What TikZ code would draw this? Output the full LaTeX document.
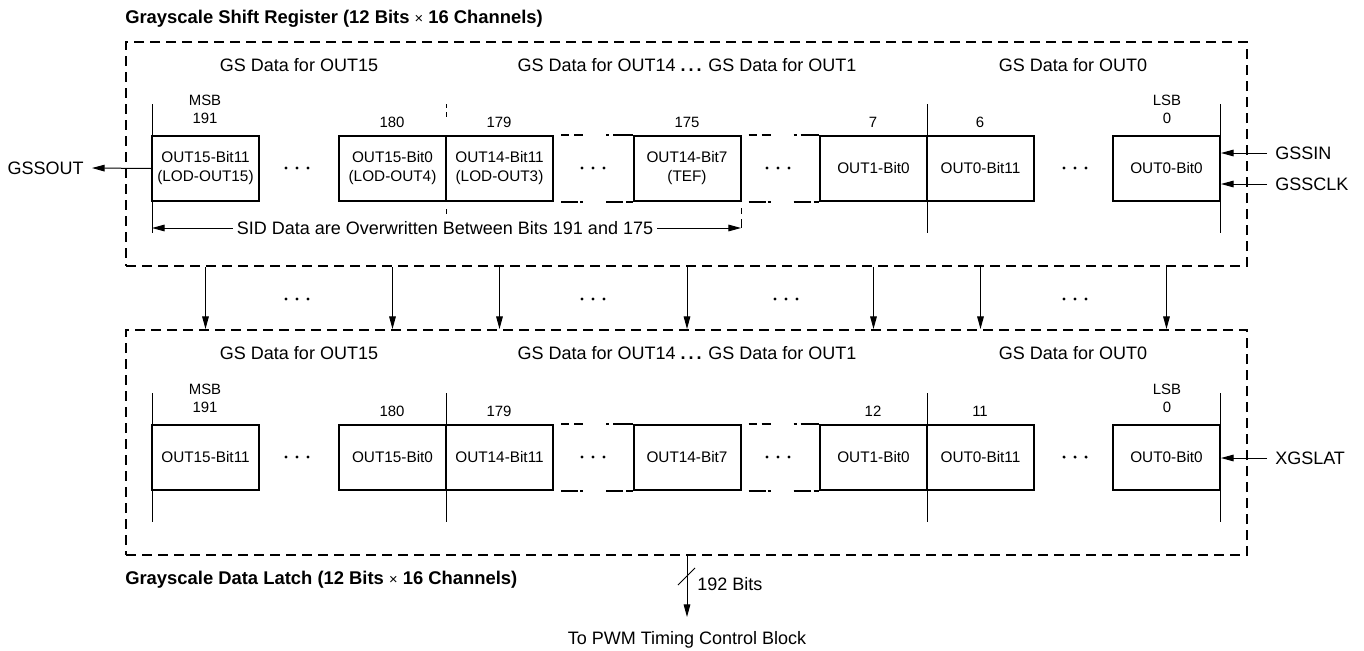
\documentclass[tikz,border=0pt]{standalone}
\usepackage{fontspec}
\setmainfont{Liberation Sans}
\usetikzlibrary{arrows.meta}
\newcommand\mydots[2]{\foreach \d in {-11,0,11}{\fill (#1+\d,#2) circle[radius=1.3pt];}}
\begin{document}
\begin{tikzpicture}[x=0.75pt,y=-0.75pt,
  cell/.style={draw,line width=1.5pt,minimum width=80.25pt,minimum height=48.75pt,inner sep=0pt,align=center,font=\fontsize{11.5}{14.25}\selectfont},
  outer/.style={draw,line width=1.5pt,dash pattern=on 7.5pt off 4.5pt,minimum width=840.75pt,inner sep=0pt},
  lbl/.style={font=\fontsize{13.5}{16}\selectfont,inner sep=0pt},
  bitlbl/.style={font=\fontsize{11.2}{13.5}\selectfont,inner sep=0pt,align=center},
  ttl/.style={font=\bfseries\fontsize{13.8}{16}\selectfont,inner sep=0pt,anchor=west},
  thin/.style={line width=0.75pt},
  arr/.style={thin,-{Triangle[length=9.5pt,width=5pt]}},
  topdash/.style={line width=1.5pt,dash pattern=on 6pt off 3.75pt on 6.75pt off 17.25pt on 2.25pt off 3pt on 20pt off 0pt},
  botdash/.style={line width=1.5pt,dash pattern=on 12.75pt off 1.5pt on 2.25pt off 17.25pt on 12.75pt off 2.25pt on 10pt off 0pt},
]
\useasboundingbox (0,0) rectangle (1364,650);

% ---------- outer boxes ----------
\node[outer,minimum height=168pt] (topbox) at (686.5,154) {};
\node[outer,minimum height=168.75pt] (botbox) at (686.5,442.5) {};
\node[ttl] (ttop) at (125,19) {Grayscale Shift Register (12 Bits {\mdseries\fontsize{11}{13}\selectfont×} 16 Channels)};
\node[ttl] (tbot) at (125,580) {Grayscale Data Latch (12 Bits {\mdseries\fontsize{11}{13}\selectfont×} 16 Channels)};

% ---------- top register ----------
\node[lbl] (g15) at (299,65) {GS Data for OUT15};
\node[lbl] (g14) at (687,65) {GS Data for OUT14 \textbf{.\,.\,.} GS Data for OUT1};
\node[lbl] (g0) at (1073,65) {GS Data for OUT0};

\node[cell] (t1) at (205.5,168.5) {OUT15-Bit11\\(LOD-OUT15)};
\node[cell] (t2) at (392.5,168.5) {OUT15-Bit0\\(LOD-OUT4)};
\node[cell] (t3) at (499.5,168.5) {OUT14-Bit11\\(LOD-OUT3)};
\node[cell] (t4) at (687,168.5) {OUT14-Bit7\\(TEF)};
\node[cell] (t5) at (873.5,168.5) {OUT1-Bit0};
\node[cell] (t6) at (980.5,168.5) {OUT0-Bit11};
\node[cell] (t7) at (1166.5,168.5) {OUT0-Bit0};

\node[bitlbl] (n191) at (205,109) {MSB\\191};
\node[bitlbl] (n180) at (392,122) {180};
\node[bitlbl] (n179) at (499,122) {179};
\node[bitlbl] (n175) at (687,122) {175};
\node[bitlbl] (n7) at (873,122) {7};
\node[bitlbl] (n6) at (980,122) {6};
\node[bitlbl] (n0) at (1167,109) {LSB\\0};

\draw[thin] (152,104) -- (152,233);
\draw[thin] (927,104) -- (927,233);
\draw[thin] (1220,104) -- (1220,233);
\draw[thin] (446,104) -- (446,108) (446,112) -- (446,117) (446,209) -- (446,214);
\draw[thin] (741,208) -- (741,214) (741,219) -- (741,228);

\draw[topdash] ([xshift=5.25pt]t3.north east) -- (t4.north west);
\draw[botdash] ([xshift=5.25pt]t3.south east) -- (t4.south west);
\draw[topdash] ([xshift=5.25pt]t4.north east) -- (t5.north west);
\draw[botdash] ([xshift=5.25pt]t4.south east) -- (t5.south west);

\mydots{297}{168}
\mydots{593}{168}
\mydots{778}{168}
\mydots{1075}{168}

\node[lbl] (sid) at (445,228) {SID Data are Overwritten Between Bits 191 and 175};
\coordinate (sidl) at (152,228);
\coordinate (sidr) at (741,228);
\draw[arr] ([xshift=-3pt]sid.west) -- (sidl);
\draw[arr] ([xshift=3pt]sid.east) -- (sidr);

\node[lbl,anchor=east] (gssout) at (84,168) {GSSOUT};
\draw[arr] (t1.west) -- ([xshift=6pt]gssout.east);
\node[lbl,anchor=west] (gssin) at (1275,153) {GSSIN};
\node[lbl,anchor=west] (gssclk) at (1275,184) {GSSCLK};
\draw[arr] ([xshift=-6pt]gssin.west) -- (t7.east |- gssin.west);
\draw[arr] ([xshift=-6pt]gssclk.west) -- (t7.east |- gssclk.west);

% ---------- transfer arrows ----------
\foreach \n in {t1,t2,t3,t4,t5,t6,t7}{
  \draw[arr] (\n |- topbox.south) -- (\n |- botbox.north);
}
\mydots{297}{299}
\mydots{593}{299}
\mydots{786}{299}
\mydots{1075}{299}

% ---------- bottom latch ----------
\node[lbl] (h15) at (299,353) {GS Data for OUT15};
\node[lbl] (h14) at (687,353) {GS Data for OUT14 \textbf{.\,.\,.} GS Data for OUT1};
\node[lbl] (h0) at (1073,353) {GS Data for OUT0};

\node[cell] (b1) at (205.5,457.5) {OUT15-Bit11};
\node[cell] (b2) at (392.5,457.5) {OUT15-Bit0};
\node[cell] (b3) at (499.5,457.5) {OUT14-Bit11};
\node[cell] (b4) at (687,457.5) {OUT14-Bit7};
\node[cell] (b5) at (873.5,457.5) {OUT1-Bit0};
\node[cell] (b6) at (980.5,457.5) {OUT0-Bit11};
\node[cell] (b7) at (1166.5,457.5) {OUT0-Bit0};

\node[bitlbl] (m191) at (205,398) {MSB\\191};
\node[bitlbl] (m180) at (392,411) {180};
\node[bitlbl] (m179) at (499,411) {179};
\node[bitlbl] (m12) at (873,411) {12};
\node[bitlbl] (m11) at (980,411) {11};
\node[bitlbl] (m0) at (1167,398) {LSB\\0};

\draw[thin] (152,393) -- (152,522);
\draw[thin] (446,393) -- (446,522);
\draw[thin] (927,393) -- (927,522);
\draw[thin] (1220,393) -- (1220,522);

\draw[topdash] ([xshift=5.25pt]b3.north east) -- (b4.north west);
\draw[botdash] ([xshift=5.25pt]b3.south east) -- (b4.south west);
\draw[topdash] ([xshift=5.25pt]b4.north east) -- (b5.north west);
\draw[botdash] ([xshift=5.25pt]b4.south east) -- (b5.south west);

\mydots{297}{457}
\mydots{593}{457}
\mydots{778}{457}
\mydots{1075}{457}

\node[lbl,anchor=west] (xgslat) at (1275,458) {XGSLAT};
\draw[arr] ([xshift=-6pt]xgslat.west) -- (b7.east |- xgslat.west);

% ---------- output ----------
\coordinate (pwmin) at (687,617);
\node[lbl] (pwm) at (687,640) {To PWM Timing Control Block};
\draw[arr] (b4 |- botbox.south) -- (pwmin);
\draw[thin] (678,585) -- (695,568);
\node[lbl,anchor=west] (bits) at (697,584) {192 Bits};
\end{tikzpicture}
\end{document}
